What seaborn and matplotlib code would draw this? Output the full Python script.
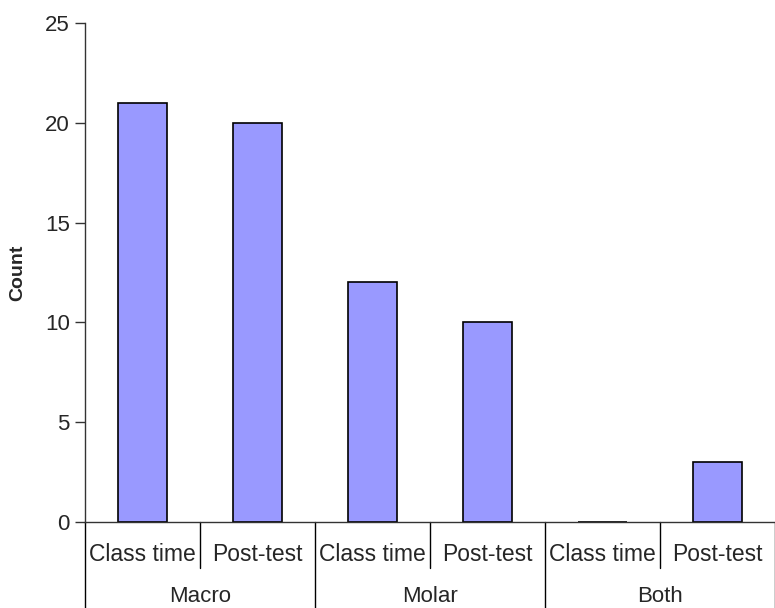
import matplotlib
matplotlib.use("Agg")
import matplotlib.pyplot as plt
import matplotlib.transforms as mtransforms
import pandas as pd
import seaborn as sns

# Response counts per group and test occasion
groups = ["Macro", "Molar", "Both"]
occasions = ["Class time", "Post-test"]
counts = [21, 20, 12, 10, 0, 3]
y_ticks = [0, 5, 10, 15, 20, 25]

rows = []
for gi, g in enumerate(groups):
    for oi, o in enumerate(occasions):
        rows.append({"slot": f"{g} | {o}", "group": g, "occasion": o,
                     "Count": counts[gi * len(occasions) + oi]})
df = pd.DataFrame(rows)

sns.set_style("ticks")
plt.rcParams["font.family"] = ["Liberation Sans", "DejaVu Sans"]

fig = plt.figure(figsize=(7.75, 6.08), dpi=100)
ax = fig.add_axes([85 / 775, 86 / 608, 690 / 775, 499 / 608])

sns.barplot(data=df, x="slot", y="Count", color="#9999FF", saturation=1,
            edgecolor="black", linewidth=1.2, width=0.42, ax=ax)

ax.set_xlim(-0.5, len(df) - 0.5)
ax.set_ylim(0, 25)
ax.set_yticks(y_ticks)
ax.set_yticklabels([str(t) for t in y_ticks], fontsize=16)
ax.tick_params(axis="y", length=7, width=1, color="#333333", pad=4)
ax.set_xticks([])
ax.set_xlabel("")
ax.set_ylabel("Count", fontsize=14, fontweight="bold")
ax.yaxis.set_label_coords(-0.0855, 0.5)

for side in ("top", "right"):
    ax.spines[side].set_visible(False)
for side in ("left", "bottom"):
    ax.spines[side].set_color("#333333")
    ax.spines[side].set_linewidth(1.0)

# Two-level category axis drawn below the plot
trans = mtransforms.blended_transform_factory(ax.transData, ax.transAxes)
n_occ = len(occasions)
for i in range(len(df) + 1):
    x = i - 0.5
    depth = -0.172 if i % n_occ == 0 else -0.0922
    ax.plot([x, x], [0, depth], transform=trans, color="black",
            linewidth=1.0, clip_on=False)

for i, row in df.iterrows():
    ax.text(i, -0.065, row["occasion"], transform=trans, ha="center",
            va="center", fontsize=16.5)

for gi, g in enumerate(groups):
    center = gi * n_occ + (n_occ - 1) / 2
    ax.text(center, -0.149, g, transform=trans, ha="center", va="center",
            fontsize=16)

fig.savefig("out.png", dpi=100)
